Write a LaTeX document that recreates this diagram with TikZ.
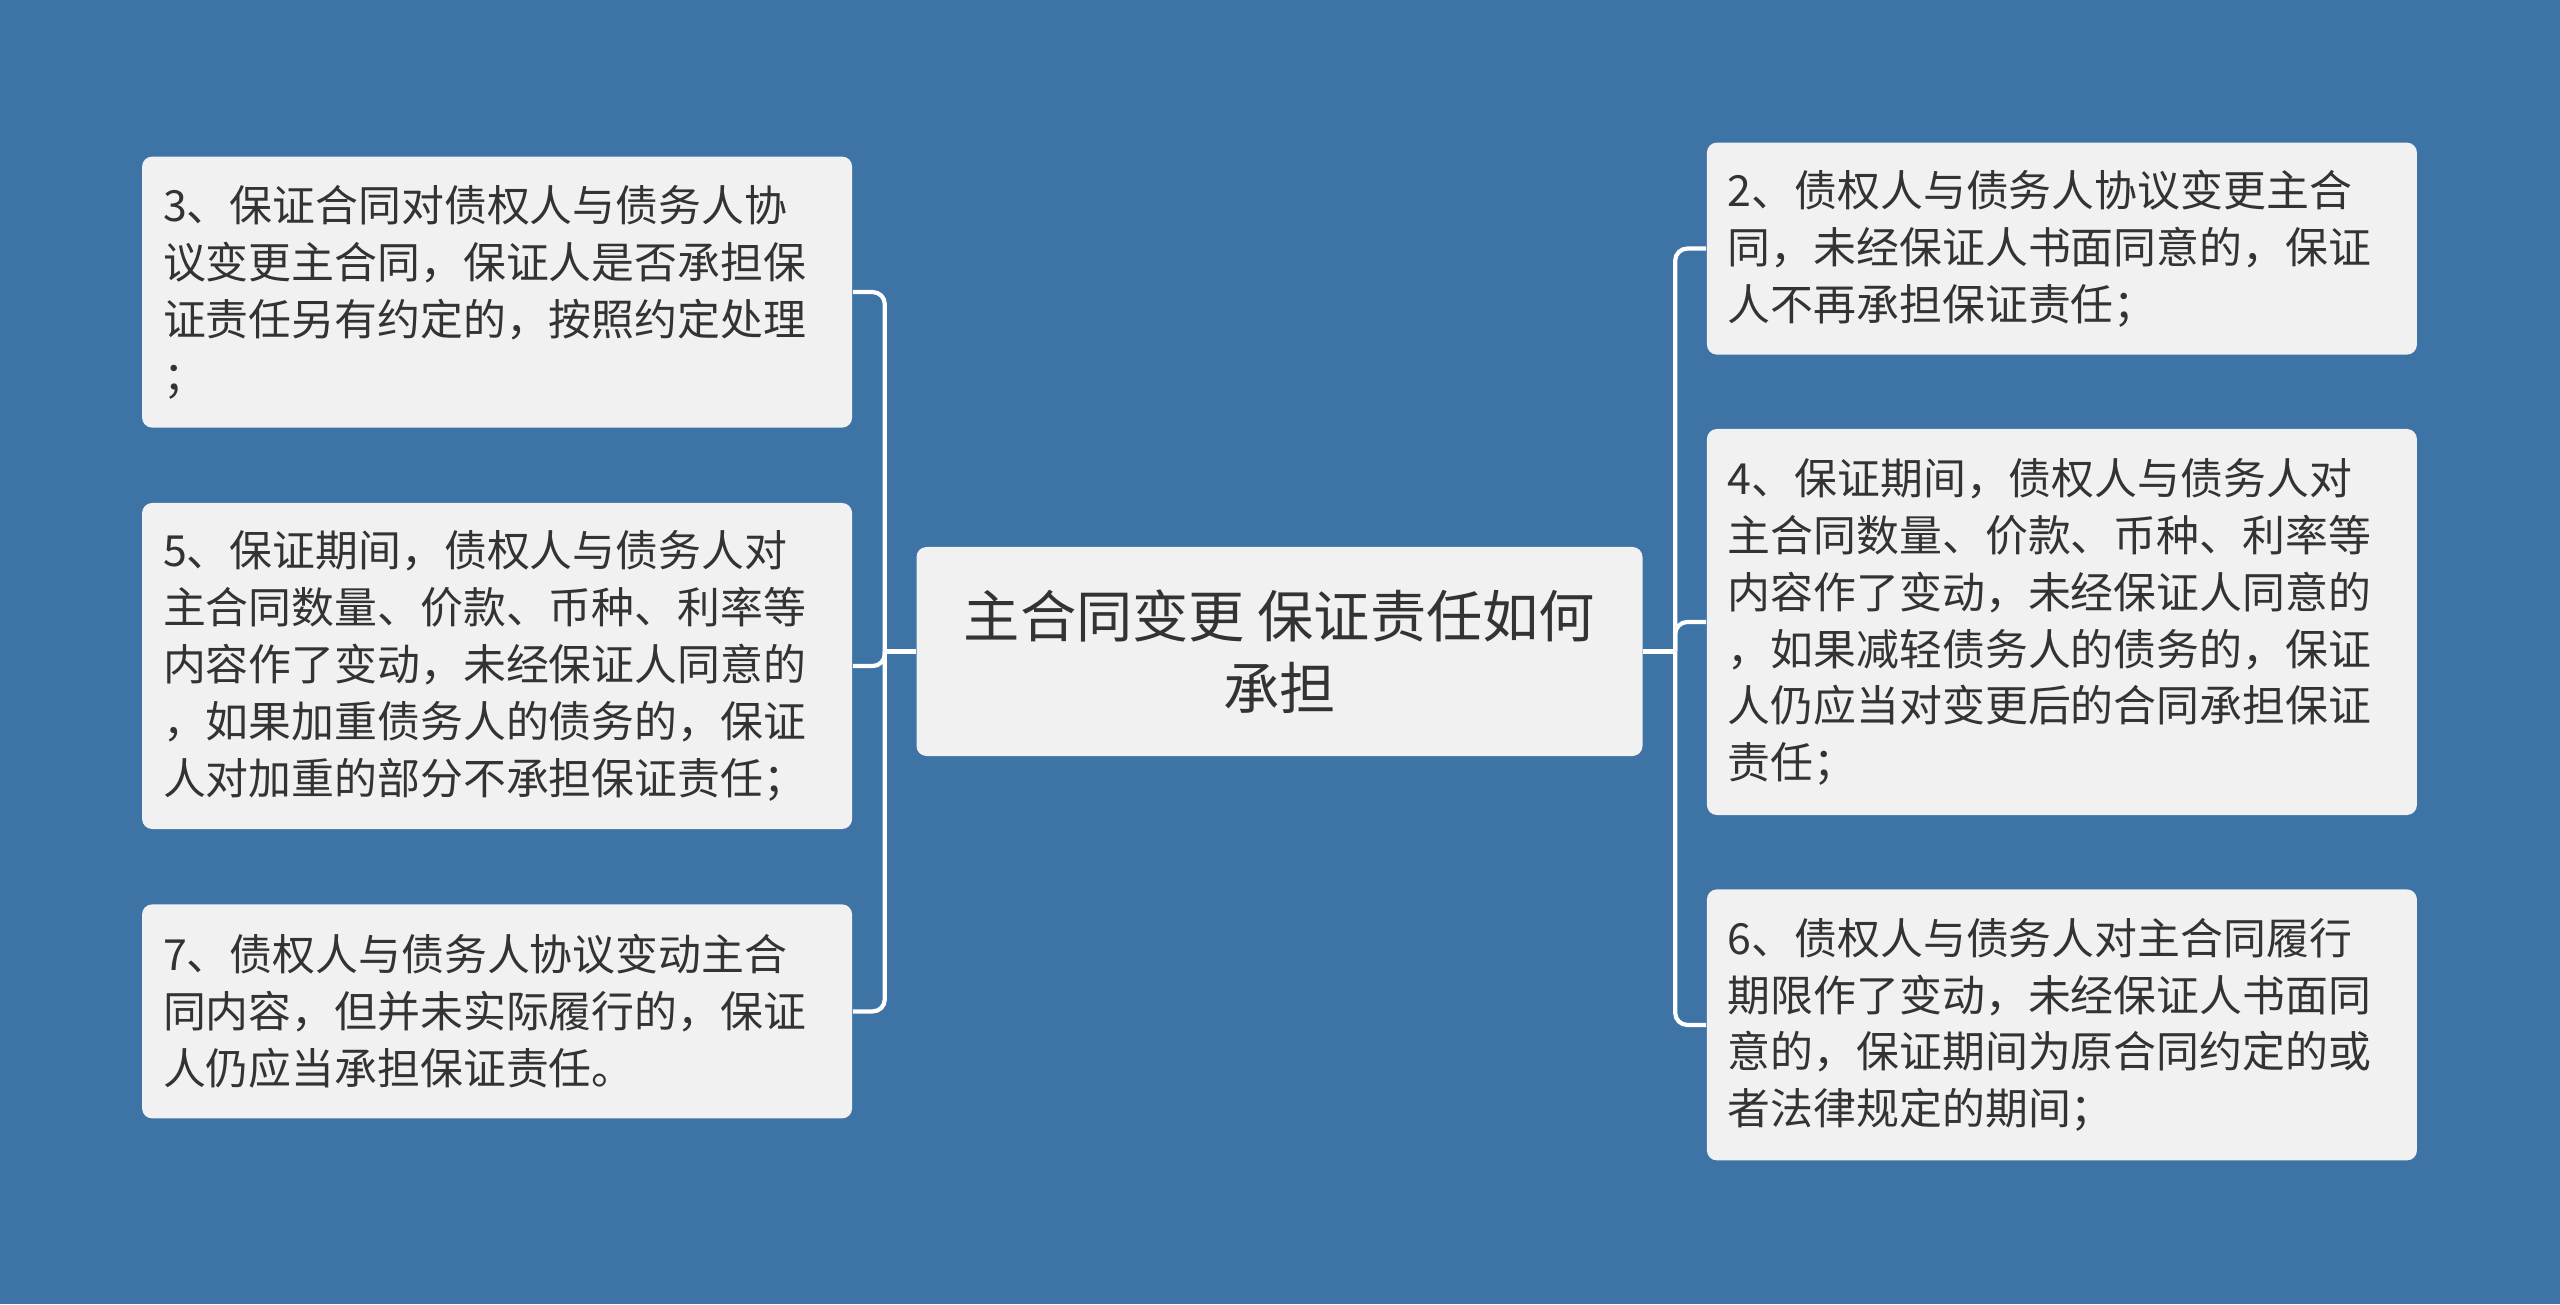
\documentclass[tikz,border=0pt]{standalone}
\usepackage{fontspec}
\newfontfamily\cjk{Noto Sans CJK SC}
\usetikzlibrary{positioning}
\definecolor{bgblue}{HTML}{3E73A5}
\definecolor{boxgray}{HTML}{F1F1F1}
\definecolor{textdark}{HTML}{333333}
\tikzset{
  item/.style={
    fill=boxgray,
    rounded corners=0.1cm,
    text width=6.68cm,
    align=left,
    inner xsep=0.21cm,
    inner ysep=0.2cm,
    text=textdark,
    font=\cjk\fontsize{12.2pt}{16.2pt}\selectfont
  },
  topic/.style={
    fill=boxgray,
    rounded corners=0.1cm,
    minimum width=7.26cm,
    minimum height=2.09cm,
    align=center,
    text=textdark,
    font=\cjk\fontsize{16pt}{20.5pt}\selectfont
  },
  link/.style={
    draw=white,
    line width=1.2pt,
    rounded corners=0.12cm
  }
}
\begin{document}
\begin{tikzpicture}

\fill[bgblue] (0,0) rectangle (25.6,13.04);

\node[topic] (root) at (12.795,6.525) {主合同变更 保证责任如何\\承担};

\node[item, minimum height=3.26cm, anchor=east] (l5) at ([xshift=-0.63cm,yshift=-0.145cm]root.west) {
5、保证期间，债权人与债务人对\\
主合同数量、价款、币种、利率等\\
内容作了变动，未经保证人同意的\\
，如果加重债务人的债务的，保证\\
人对加重的部分不承担保证责任；
};

\node[item, minimum height=2.71cm, above=0.74cm of l5] (l3) {
3、保证合同对债权人与债务人协\\
议变更主合同，保证人是否承担保\\
证责任另有约定的，按照约定处理\\
；
};

\node[item, minimum height=2.14cm, below=0.74cm of l5] (l7) {
7、债权人与债务人协议变动主合\\
同内容，但并未实际履行的，保证\\
人仍应当承担保证责任。
};

\node[item, minimum height=3.86cm, anchor=west] (r4) at ([xshift=0.63cm,yshift=0.295cm]root.east) {
4、保证期间，债权人与债务人对\\
主合同数量、价款、币种、利率等\\
内容作了变动，未经保证人同意的\\
，如果减轻债务人的债务的，保证\\
人仍应当对变更后的合同承担保证\\
责任；
};

\node[item, minimum height=2.12cm, above=0.73cm of r4] (r2) {
2、债权人与债务人协议变更主合\\
同，未经保证人书面同意的，保证\\
人不再承担保证责任；
};

\node[item, minimum height=2.71cm, below=0.73cm of r4] (r6) {
6、债权人与债务人对主合同履行\\
期限作了变动，未经保证人书面同\\
意的，保证期间为原合同约定的或\\
者法律规定的期间；
};

% trunks left and right of the topic
\draw[link] (root.west) -- ++(-0.31,0) coordinate (ljoin);
\draw[link] (root.east) -- ++(0.32,0) coordinate (rjoin);

\draw[link] (ljoin) |- (l3.east);
\draw[link] (ljoin) |- (l5.east);
\draw[link] (ljoin) |- (l7.east);
\draw[link] (rjoin) |- (r2.west);
\draw[link] (rjoin) |- (r4.west);
\draw[link] (rjoin) |- (r6.west);

\end{tikzpicture}
\end{document}
